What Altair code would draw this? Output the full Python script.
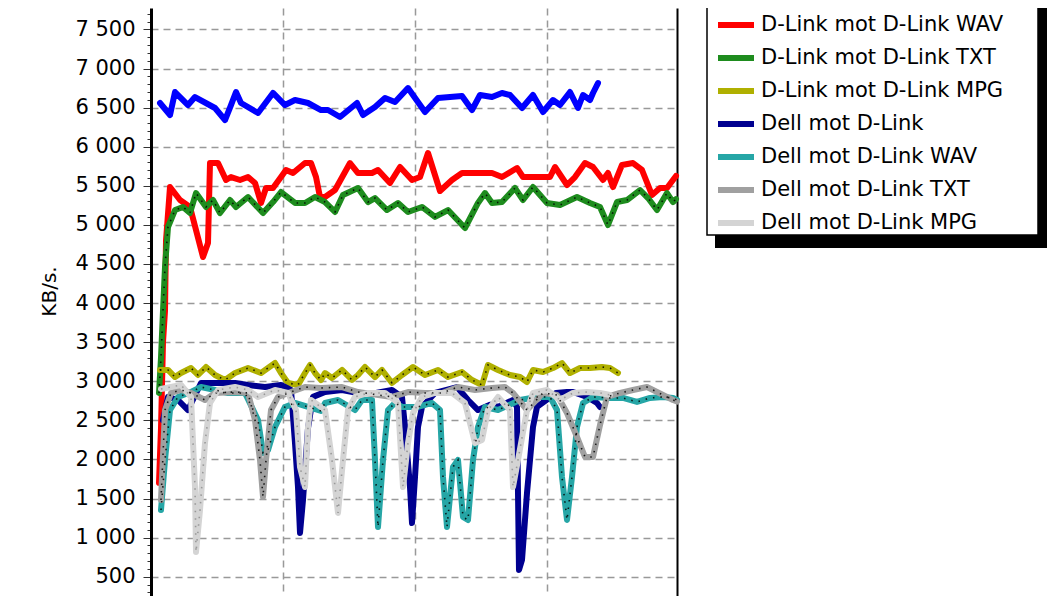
import altair as alt
import pandas as pd

series_names = [
    "D-Link mot D-Link", "D-Link mot D-Link WAV", "D-Link mot D-Link TXT",
    "D-Link mot D-Link MPG", "Dell mot D-Link", "Dell mot D-Link WAV",
    "Dell mot D-Link TXT", "Dell mot D-Link MPG",
]
series_colors = ["#0000ff", "#ff0000", "#1e8c1e", "#b0b000",
                 "#000090", "#26a6a6", "#a0a0a0", "#d4d4d4"]
dotted_black = ["D-Link mot D-Link TXT", "D-Link mot D-Link MPG",
                "Dell mot D-Link WAV", "Dell mot D-Link TXT"]
dotted_gray = ["Dell mot D-Link MPG"]

# sample positions (time) and KB/s values for each series
dl_x = [9,19,24,37,44,64,74,80,85,90,107,122,134,144,157,170,177,189,206,212,224,234,244,257,274,287,311,321,329,341,351,359,371,382,392,402,409,419,427,432,439,442,447]
dl_v = [6559,6405,6699,6533,6635,6495,6341,6533,6699,6559,6431,6687,6533,6597,6559,6469,6469,6380,6559,6405,6508,6623,6571,6750,6444,6623,6648,6469,6661,6635,6687,6661,6495,6661,6444,6597,6533,6699,6495,6661,6597,6687,6814]

wav_x = [8,10,12,14,15,19,29,39,45,52,57,59,67,75,80,89,97,104,110,115,122,130,135,142,154,160,165,169,174,184,199,207,221,227,239,249,261,269,277,289,301,311,324,341,351,366,372,399,404,416,424,434,442,452,457,462,471,482,491,501,509,516,522,525]
wav_v = [1700,2400,3500,3900,4800,5484,5318,5229,4934,4589,4768,5791,5791,5574,5612,5574,5612,5536,5280,5471,5471,5612,5702,5663,5791,5791,5612,5356,5356,5446,5791,5663,5663,5702,5536,5740,5574,5612,5919,5433,5574,5663,5663,5663,5612,5727,5612,5612,5740,5510,5612,5791,5740,5574,5663,5484,5766,5791,5702,5382,5471,5471,5574,5625]

txt_x = [8,10,12,14,17,24,32,39,45,55,62,69,79,85,97,112,122,130,144,154,164,174,184,192,207,217,224,236,247,257,271,284,297,314,327,334,341,351,364,372,382,396,409,426,439,449,457,466,476,489,497,506,516,522,525]
txt_v = [2850,3300,3900,4460,4973,5190,5229,5152,5407,5229,5318,5152,5318,5229,5356,5152,5292,5420,5280,5280,5356,5292,5165,5382,5471,5292,5343,5190,5280,5165,5229,5101,5190,4960,5280,5407,5280,5292,5471,5318,5484,5280,5254,5356,5280,5229,4998,5292,5318,5446,5343,5190,5407,5292,5330]

mpg_x = [9,17,24,30,40,47,55,64,74,84,97,110,124,130,137,147,154,159,164,170,174,181,191,201,207,214,224,231,241,251,262,274,287,297,311,321,331,337,347,354,359,369,376,382,392,402,411,419,429,439,451,459,467]
mpg_v = [3144,3144,3054,3105,3169,3080,3182,3080,3016,3105,3169,3105,3233,3105,2978,2952,3105,3208,3105,3016,3105,3041,3144,3016,3080,3182,3054,3144,2978,3080,3182,3080,3144,3054,3118,3016,2952,3208,3144,3105,3080,3054,2990,3144,3118,3169,3233,3105,3169,3169,3182,3169,3105]

dell_x = [12,17,27,37,50,64,84,97,114,130,140,144,147,149,152,157,162,174,191,207,225,241,251,254,259,261,264,267,271,284,306,317,327,339,347,362,366,367,368,371,376,382,386,405,416,422,436,446,449]
dell_v = [2500,2799,2760,2632,2978,2978,2978,2952,2926,2952,2888,2210,1647,1059,1481,2400,2800,2862,2888,2850,2850,2888,2799,2415,1647,1187,1775,2415,2671,2850,2926,2760,2632,2700,2671,2760,2671,1571,586,714,1571,2415,2671,2850,2862,2862,2799,2722,2671]

dwav_x = [10,14,19,27,40,50,64,77,94,107,112,117,124,134,144,157,170,174,187,204,211,221,224,227,232,237,244,251,267,281,289,292,296,302,307,312,317,322,327,334,347,369,386,399,406,411,416,421,426,432,442,459,472,486,499,512,522,526]
dwav_v = [1353,1992,2632,2799,2862,2926,2888,2850,2850,2504,2082,2120,2415,2671,2722,2671,2620,2722,2760,2632,2760,2760,1992,1136,1992,2632,2722,2671,2671,2722,2632,1775,1136,1903,1992,1264,1225,1992,2415,2671,2632,2760,2799,2799,2632,1775,1225,1775,2415,2722,2799,2786,2786,2735,2786,2799,2786,2760]

dtxt_x = [10,14,20,30,40,54,64,84,97,104,109,112,115,120,127,140,154,170,191,207,241,257,274,291,307,324,341,354,362,376,392,406,416,426,434,442,449,456,469,482,496,506,516,522,526]
dtxt_v = [1481,2632,2850,2888,2850,2760,2850,2862,2850,2504,1992,1520,1992,2632,2799,2862,2926,2914,2926,2862,2799,2862,2850,2850,2926,2888,2914,2926,2850,2632,2850,2824,2594,2287,2031,2031,2440,2799,2850,2888,2926,2862,2799,2760,2740]

dmpg_x = [10,30,40,44,45,49,54,59,67,84,97,107,124,137,145,149,154,157,160,174,181,187,192,197,204,217,234,247,252,257,262,271,284,301,314,324,331,337,347,359,362,367,376,382,396,409,422,436,449,459]
dmpg_v = [2900,2952,2799,1647,816,1353,2210,2722,2888,2926,2888,2799,2888,2850,2632,1903,1647,2415,2760,2632,1992,1315,1992,2632,2799,2850,2850,2722,1647,2210,2594,2799,2850,2850,2722,2210,2248,2632,2799,2632,1647,1992,2632,2850,2888,2760,2850,2862,2850,2824]

x_grid = [132, 264, 396]
y_ticks = list(range(300, 7800, 100))
x_domain = [0, 526]
y_domain = [253, 7774]

all_x = [dl_x, wav_x, txt_x, mpg_x, dell_x, dwav_x, dtxt_x, dmpg_x]
all_v = [dl_v, wav_v, txt_v, mpg_v, dell_v, dwav_v, dtxt_v, dmpg_v]
rows = []
for k, (name, xs, vs) in enumerate(zip(series_names, all_x, all_v)):
    for i, (a, b) in enumerate(zip(xs, vs)):
        rows.append({"series": name, "order": k, "i": i, "t": a, "kbs": b})
df = pd.DataFrame(rows)

W, H = 526, 588
FONT = "DejaVu Sans"

x_scale = alt.Scale(domain=x_domain, nice=False, zero=False)
y_scale = alt.Scale(domain=y_domain, nice=False, zero=False)

x_axis = alt.Axis(values=x_grid, labels=False, ticks=False, domain=False,
                  grid=True, gridDash=[7, 5], gridColor="#999999",
                  gridWidth=1.5, title=None)

major = "datum.value % 500 == 0"
y_axis_left = alt.Axis(
    values=y_ticks,
    title="KB/s.", titleFont=FONT, titleFontSize=20, titleFontWeight="normal",
    titleColor="black", titleAngle=270, titleX=-96, titleY=283,
    titleAlign="center", titleBaseline="alphabetic",
    labelFont=FONT, labelFontSize=21, labelColor="black",
    labelExpr=f"{major} ? replace(format(datum.value, ','), ',', ' ') : ''",
    labelOverlap=False, labelPadding=8, labelBaseline="middle",
    tickSize={"condition": {"test": major, "value": 8}, "value": 4},
    tickColor="#333333", tickWidth=1,
    domainColor="black", domainWidth=3,
    grid=True, gridColor="#999999", gridDash=[7, 5], gridWidth=1.5,
    gridOpacity={"condition": {"test": major, "value": 1}, "value": 0},
)
y_axis_right = alt.Axis(orient="right", labels=False, ticks=False, grid=False,
                        domain=True, domainColor="black", domainWidth=2,
                        title=None)

legend = alt.Legend(
    orient="none", legendX=556, legendY=-41, zindex=1, title=None,
    symbolType="stroke", symbolStrokeWidth=6, symbolSize=1296,
    symbolOffset=4,
    labelFont=FONT, labelFontSize=21, labelColor="black", labelOffset=4,
    labelLimit=0, padding=4, rowPadding=0,
)

color = alt.Color("series:N", sort=series_names,
                  scale=alt.Scale(domain=series_names, range=series_colors),
                  legend=legend)

lines = alt.Chart(df).mark_line(strokeWidth=6, strokeJoin="round",
                                strokeCap="round").encode(
    x=alt.X("t:Q", scale=x_scale, axis=x_axis),
    y=alt.Y("kbs:Q", scale=y_scale, axis=y_axis_left),
    color=color,
    order="i:Q",
)

dots_black = alt.Chart(df).transform_filter(
    alt.FieldOneOfPredicate(field="series", oneOf=dotted_black)
).mark_line(strokeWidth=1.6, strokeDash=[1.5, 6], color="black",
            opacity=0.85).encode(
    x=alt.X("t:Q", scale=x_scale, axis=x_axis),
    y=alt.Y("kbs:Q", scale=y_scale, axis=y_axis_right),
    detail="series:N",
    order="i:Q",
)

dots_gray = alt.Chart(df).transform_filter(
    alt.FieldOneOfPredicate(field="series", oneOf=dotted_gray)
).mark_line(strokeWidth=1.6, strokeDash=[1.5, 6], color="#999999").encode(
    x=alt.X("t:Q", scale=x_scale, axis=x_axis),
    y=alt.Y("kbs:Q", scale=y_scale, axis=None),
    detail="series:N",
    order="i:Q",
)

# legend frame: drop shadow and white box (decoration only)
one = pd.DataFrame({"a": [0]})
shadow = alt.Chart(one).mark_rect(color="black").encode(
    x=alt.value(564), x2=alt.value(896), y=alt.value(-60), y2=alt.value(240)
)
box = alt.Chart(one).mark_rect(fill="white", stroke="black",
                               strokeWidth=1.5).encode(
    x=alt.value(556), x2=alt.value(887), y=alt.value(-60), y2=alt.value(227)
)

chart = alt.layer(shadow, box, lines, dots_black, dots_gray).resolve_axis(
    y="independent"
).properties(
    width=W, height=H,
    autosize=alt.AutoSizeParams(type="none"),
    padding={"left": 143, "top": 0, "right": 373, "bottom": 0},
    background="white",
).configure_view(stroke=None)

chart.save("out.html", embed_options={"renderer": "svg", "actions": False})
